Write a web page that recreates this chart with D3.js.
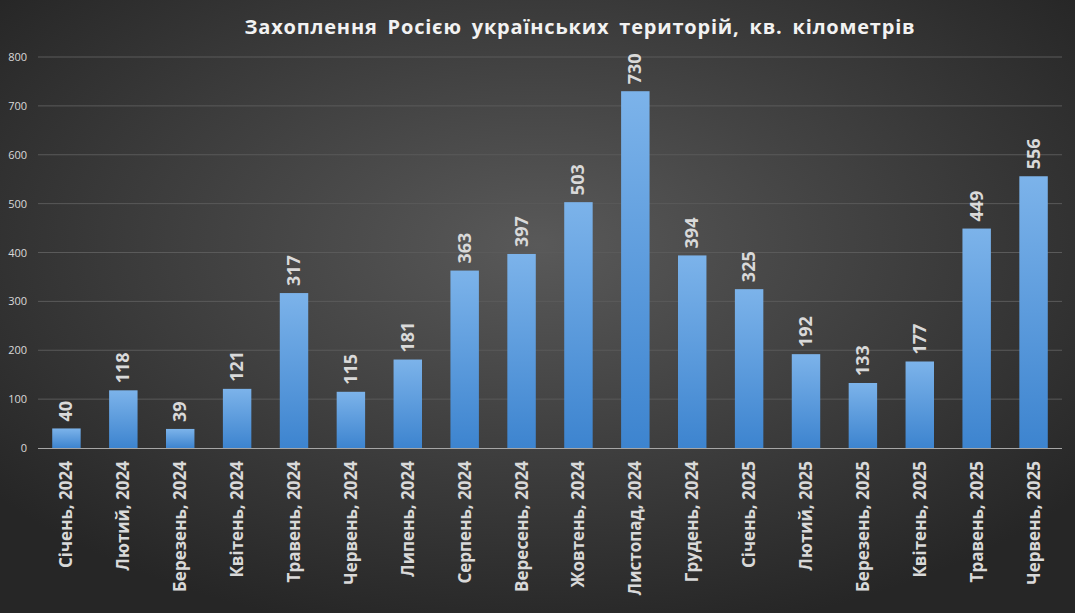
<!DOCTYPE html>
<html><head><meta charset="utf-8">
<script src="https://cdn.jsdelivr.net/npm/d3@7"></script>
<style>body{margin:0;background:#333}</style>
</head><body>
<svg id="chart" width="1075" height="613"></svg>
<script>
var months = ["Січень, 2024","Лютий, 2024","Березень, 2024","Квітень, 2024","Травень, 2024","Червень, 2024","Липень, 2024","Серпень, 2024","Вересень, 2024","Жовтень, 2024","Листопад, 2024","Грудень, 2024","Січень, 2025","Лютий, 2025","Березень, 2025","Квітень, 2025","Травень, 2025","Червень, 2025"];
var areas = [40,118,39,121,317,115,181,363,397,503,730,394,325,192,133,177,449,556];
var yTicks = [0,100,200,300,400,500,600,700,800];

var svg = d3.select("svg#chart");
var defs = svg.append("defs");
var bg = defs.append("radialGradient").attr("id","bg").attr("cx","50%").attr("cy","40%").attr("r","65%");
bg.append("stop").attr("offset","0%").attr("stop-color","#595959");
bg.append("stop").attr("offset","100%").attr("stop-color","#262626");
var bar = defs.append("linearGradient").attr("id","bar").attr("x1",0).attr("y1",0).attr("x2",0).attr("y2",1);
bar.append("stop").attr("offset","0%").attr("stop-color","#7cb3ea");
bar.append("stop").attr("offset","100%").attr("stop-color","#3d84cf");

svg.append("rect").attr("width",1075).attr("height",613).attr("fill","url(#bg)");

var x = d3.scaleBand().domain(months).range([38,1062]).paddingInner(0.5).paddingOuter(0.25);
var y = d3.scaleLinear().domain([0,800]).range([448,57]);

svg.append("g").selectAll("line").data(yTicks.slice(1)).enter().append("line")
    .attr("x1",38).attr("x2",1062)
    .attr("y1",function(d){return y(d)}).attr("y2",function(d){return y(d)})
    .attr("stroke","#5a5a5a").attr("stroke-width",1);

svg.append("g").selectAll("text").data(yTicks).enter().append("text")
    .attr("x",27).attr("y",function(d){return y(d)+4})
    .attr("text-anchor","end").attr("fill","#d9d9d9")
    .style("font-family","'Open Sans', sans-serif").style("font-size","11px")
    .text(function(d){return d});

svg.append("g").selectAll("rect").data(areas).enter().append("rect")
    .attr("x",function(d,i){return x(months[i])})
    .attr("width",x.bandwidth())
    .attr("y",function(d){return y(d)})
    .attr("height",function(d){return y(0)-y(d)})
    .attr("fill","url(#bar)");

svg.append("line").attr("x1",38).attr("x2",1062).attr("y1",448.5).attr("y2",448.5)
    .attr("stroke","#a6a6a6").attr("stroke-width",1);

svg.append("g").selectAll("text").data(areas).enter().append("text")
    .attr("transform",function(d,i){
        return "translate("+(x(months[i])+x.bandwidth()/2+6)+","+(y(d)-7)+") rotate(-90)"})
    .attr("fill","#d9d9d9")
    .style("font-family","'Open Sans', sans-serif").style("font-size","18px").style("font-weight","bold")
    .text(function(d){return d});

svg.append("g").selectAll("text").data(months).enter().append("text")
    .attr("transform",function(d){
        return "translate("+(x(d)+x.bandwidth()/2+6)+",461) rotate(-90)"})
    .attr("text-anchor","end").attr("fill","#d9d9d9")
    .style("font-family","'Open Sans', sans-serif").style("font-size","17px").style("font-weight","bold")
    .text(function(d){return d});

svg.append("text").attr("x",580).attr("y",34).attr("text-anchor","middle")
    .attr("fill","#f2f2f2")
    .style("font-family","'Open Sans', sans-serif").style("font-size","20px").style("font-weight","bold")
    .style("letter-spacing","0.8px").style("word-spacing","4px")
    .text("Захоплення Росією українських територій, кв. кілометрів");
</script>
</body></html>
